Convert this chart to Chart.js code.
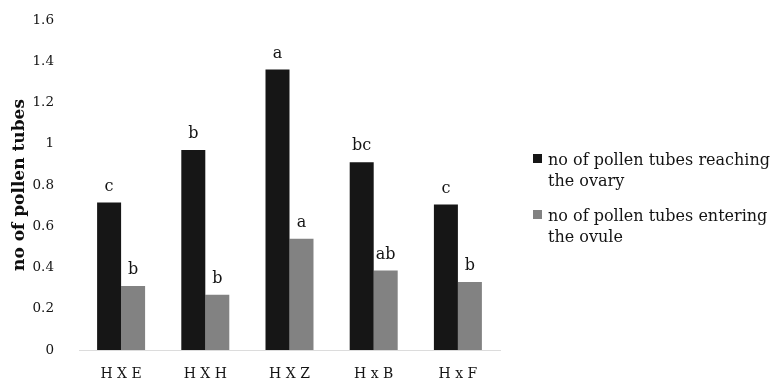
<!DOCTYPE html>
<html>
<head>
<meta charset="utf-8">
<script src="https://cdn.jsdelivr.net/npm/chart.js@4.4.1/dist/chart.umd.min.js"></script>
<style>
  html, body { margin: 0; padding: 0; background: #fff; }
  #wrap { width: 782px; height: 383px; }
</style>
</head>
<body>
<div id="wrap"><canvas id="c" width="782" height="383"></canvas></div>
<script>
// Crosses and mean number of pollen tubes
const crosses = ['H X E', 'H X H', 'H X Z', 'H x B', 'H x F'];
const seriesNames = ['no of pollen tubes reaching the ovary', 'no of pollen tubes entering the ovule'];
const reachingOvary = [0.715, 0.97, 1.36, 0.91, 0.705];
const enteringOvule = [0.31, 0.268, 0.54, 0.385, 0.33];
// Significance letters shown over each bar
const lettersOvary = ['c', 'b', 'a', 'bc', 'c'];
const lettersOvule = ['b', 'b', 'a', 'ab', 'b'];
const yTicks = [0, 0.2, 0.4, 0.6, 0.8, 1, 1.2, 1.4, 1.6];

const barColors = ['#161616', '#828282'];
const serif = '"DejaVu Serif", serif';

// Letters drawn centred above each bar
const letterPlugin = {
  id: 'letters',
  afterDatasetsDraw(chart) {
    const ctx = chart.ctx;
    const sets = [lettersOvary, lettersOvule];
    ctx.save();
    ctx.font = '16px ' + serif;
    ctx.fillStyle = '#141414';
    ctx.textAlign = 'center';
    ctx.textBaseline = 'alphabetic';
    sets.forEach((letters, di) => {
      chart.getDatasetMeta(di).data.forEach((bar, i) => {
        ctx.fillText(letters[i], bar.x, bar.y - 12);
      });
    });
    ctx.restore();
  }
};

// Legend on the right with wrapped labels
const sideLegend = {
  id: 'sideLegend',
  afterDraw(chart) {
    const ctx = chart.ctx;
    const x0 = 533, textX = 548, maxW = 232, lineH = 21;
    let y = 165;
    ctx.save();
    ctx.font = '16px ' + serif;
    ctx.textBaseline = 'alphabetic';
    chart.data.datasets.forEach((ds) => {
      const words = ds.label.split(' ');
      const lines = [];
      let cur = '';
      words.forEach(w => {
        const test = cur ? cur + ' ' + w : w;
        if (ctx.measureText(test).width > maxW && cur) { lines.push(cur); cur = w; }
        else cur = test;
      });
      if (cur) lines.push(cur);
      ctx.fillStyle = ds.backgroundColor;
      ctx.fillRect(x0, y - 11, 9, 9);
      ctx.fillStyle = '#141414';
      lines.forEach((ln, k) => ctx.fillText(ln, textX, y + k * lineH));
      y += lines.length * lineH + 14;
    });
    ctx.restore();
  }
};

new Chart(document.getElementById('c'), {
  type: 'bar',
  data: {
    labels: crosses,
    datasets: [
      { label: seriesNames[0], data: reachingOvary, backgroundColor: barColors[0] },
      { label: seriesNames[1], data: enteringOvule, backgroundColor: barColors[1] }
    ]
  },
  options: {
    responsive: false,
    animation: false,
    events: [],
    layout: { padding: { left: 0, right: 282, top: 20, bottom: 0 } },
    datasets: { bar: { categoryPercentage: 0.57, barPercentage: 1.0 } },
    plugins: { legend: { display: false }, tooltip: { enabled: false } },
    scales: {
      x: {
        grid: { display: false, drawTicks: false },
        border: { display: true, color: '#dcdcdc', width: 1 },
        ticks: { color: '#141414', font: { family: serif, size: 14 }, padding: 16 },
        afterFit(s) { s.height = 33; }
      },
      y: {
        min: 0, max: 1.6,
        grid: { display: false, drawTicks: true, tickLength: 21 },
        border: { display: false },
        afterBuildTicks(s) { s.ticks = yTicks.map(v => ({ value: v })); },
        ticks: {
          color: '#141414',
          font: { family: serif, size: 13.5 },
          padding: 4,
          callback: (v) => String(v)
        },
        title: {
          display: true,
          text: 'no of pollen tubes',
          color: '#0e0e0e',
          font: { family: serif, size: 17, weight: 'bold' },
          padding: { top: 9, bottom: 0 }
        },
        afterFit(s) { s.width = 79; }
      }
    }
  },
  plugins: [letterPlugin, sideLegend]
});
</script>
</body>
</html>
